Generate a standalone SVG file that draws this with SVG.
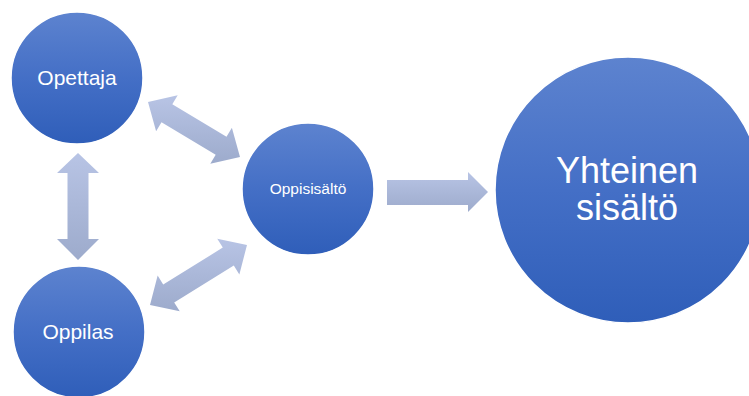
<svg xmlns="http://www.w3.org/2000/svg" width="749" height="396" viewBox="0 0 749 396">
<defs>
<linearGradient id="gCircle" x1="0" y1="0" x2="0" y2="1">
<stop offset="0" stop-color="#5d83cf"/>
<stop offset="0.5" stop-color="#446fc6"/>
<stop offset="1" stop-color="#2f5eb9"/>
</linearGradient>
<linearGradient id="gArrow" x1="0" y1="0" x2="0" y2="1">
<stop offset="0" stop-color="#b8c4e5"/>
<stop offset="1" stop-color="#9dabcc"/>
</linearGradient>
<style>
.node{fill:url(#gCircle);stroke:#ffffff;stroke-width:1.5}
.lbl{font-family:"Liberation Sans",Arial,sans-serif;fill:#ffffff;text-anchor:middle}
.arr{fill:url(#gArrow)}
</style>
</defs>
<rect width="749" height="396" fill="#ffffff"/>
<g id="connectors">
<polygon class="arr" points="148,102 177.7,95.3 172.3,104.3 226.5,136.7 231.9,127.7 240,157 210.3,163.7 215.7,154.7 161.5,122.3 156.1,131.3"/>
<polygon class="arr" points="150,305 157.65,275.57 163.2,284.5 222.8,247.6 217.25,238.7 247,245 239.35,274.4 233.8,265.5 174.2,302.4 179.75,311.3"/>
<polygon class="arr" points="78,153 99,173 88.5,173 88.5,239 99,239 78,260 57,239 67.5,239 67.5,173 57,173"/>
<polygon class="arr" points="387,180 468,180 468,172 488,192 468,212 468,205 387,205"/>
</g>
<g id="opettaja">
<circle class="node" cx="77" cy="78" r="66"/>
<text class="lbl" x="77" y="85" font-size="21">Opettaja</text>
</g>
<g id="oppilas">
<circle class="node" cx="79" cy="332" r="66"/>
<text class="lbl" x="78" y="339" font-size="21">Oppilas</text>
</g>
<g id="oppisisalto">
<circle class="node" cx="308" cy="189" r="66"/>
<text class="lbl" x="308" y="194" font-size="15.5">Oppisisältö</text>
</g>
<g id="yhteinen">
<circle class="node" cx="628" cy="190" r="133"/>
<text class="lbl" x="627" y="183" font-size="36">Yhteinen</text>
<text class="lbl" x="627" y="220" font-size="36">sisältö</text>
</g>
</svg>
